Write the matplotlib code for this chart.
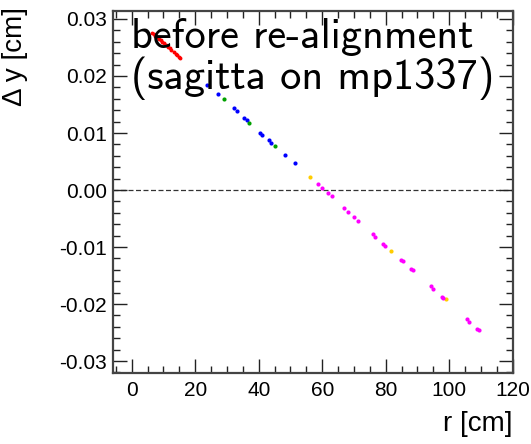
import numpy as np
import matplotlib
matplotlib.use("Agg")
import matplotlib.pyplot as plt
from matplotlib.ticker import MultipleLocator, FormatStrFormatter

# residuals per detector layer: r [cm], delta y [cm]
red_r = [6.4, 6.9, 7.4, 7.9, 8.6, 9.1, 9.6, 10.1, 10.9, 11.4, 11.9, 12.4, 13.3, 13.8, 14.3, 14.8, 15.2]
red_dy = [0.0276, 0.0274, 0.0271, 0.0269, 0.0265, 0.0263, 0.0260, 0.0258, 0.0254,
          0.0251, 0.0249, 0.0246, 0.0242, 0.0239, 0.0237, 0.0234, 0.0232]

blue_r = [23.7, 27.2, 32.2, 33.2, 35.4, 36.3, 40.4, 41.0, 43.2, 43.9, 48.3, 51.4]
blue_dy = [0.0185, 0.0168, 0.0143, 0.0139, 0.0127, 0.0123, 0.0100, 0.0097, 0.0087, 0.0083, 0.0062, 0.0047]

green_r = [29.1, 37.0, 45.2]
green_dy = [0.0159, 0.0118, 0.0078]

yellow_r = [56.2, 81.7, 99.0]
yellow_dy = [0.0022, -0.0107, -0.0192]

magenta_r = [58.7, 59.9, 61.8, 63.1, 66.9, 68.1, 70.0, 71.3, 76.0, 76.6, 79.1, 79.8,
             84.8, 85.5, 88.0, 88.6, 94.3, 94.9, 97.7, 98.1, 105.6, 106.2, 108.7, 109.4]
magenta_dy = [0.0010, 0.0004, -0.0006, -0.0011, -0.0032, -0.0038, -0.0048, -0.0054,
              -0.0078, -0.0082, -0.0094, -0.0098, -0.0122, -0.0124, -0.0138, -0.0141,
              -0.0169, -0.0173, -0.0187, -0.0189, -0.0227, -0.0231, -0.0243, -0.0246]

plt.rcParams['axes.unicode_minus'] = False
plt.rcParams['font.family'] = ['Liberation Sans', 'DejaVu Sans']

fig = plt.figure(figsize=(5.31, 4.44), dpi=100)
ax = fig.add_axes([0.2122, 0.1599, 0.7533, 0.8153])

ax.axhline(0, color='#333333', lw=0.9, ls=(0, (4, 2)), zorder=1)

groups = [(red_r, red_dy, '#ff0000', 2.8), (blue_r, blue_dy, '#0000ff', 3.0),
          (green_r, green_dy, '#00a000', 3.0), (yellow_r, yellow_dy, '#ffcc00', 3.0),
          (magenta_r, magenta_dy, '#ff00ff', 3.0)]
for r, dy, c, m in groups:
    ax.plot(r, dy, 'o', color=c, ms=m, mew=0, zorder=3)

ax.set_xlim(-6, 120)
ax.set_ylim(-0.0321, 0.0314)

ax.xaxis.set_major_locator(MultipleLocator(20))
ax.xaxis.set_minor_locator(MultipleLocator(5))
ax.yaxis.set_major_locator(MultipleLocator(0.01))
ax.yaxis.set_minor_locator(MultipleLocator(0.002))
ax.yaxis.set_major_formatter(FormatStrFormatter('%.2f'))

ax.tick_params(which='both', direction='in', top=True, right=True, colors='#222222',
               labelsize=15, labelcolor='black')
ax.tick_params(which='major', length=10, width=1)
ax.tick_params(which='minor', length=5, width=1)
ax.tick_params(axis='x', pad=6)
ax.tick_params(axis='y', pad=4)
for s in ax.spines.values():
    s.set_color('#444444')
    s.set_linewidth(1.6)

ax.set_ylabel('\u0394 y [cm]', fontsize=20, loc='top')
ax.yaxis.set_label_coords(-0.212, 1.01)
ax.set_xlabel('r [cm]', fontsize=20, loc='right', va='top')
ax.xaxis.set_label_coords(1.0, -0.105)

ax.text(0.045, 0.98, 'before re-alignment\n(sagitta on mp1337)', transform=ax.transAxes,
        ha='left', va='top', fontsize=30.5, family=['cmss10', 'DejaVu Sans'],
        linespacing=1.0, zorder=4)

fig.savefig('out.png', dpi=100)
